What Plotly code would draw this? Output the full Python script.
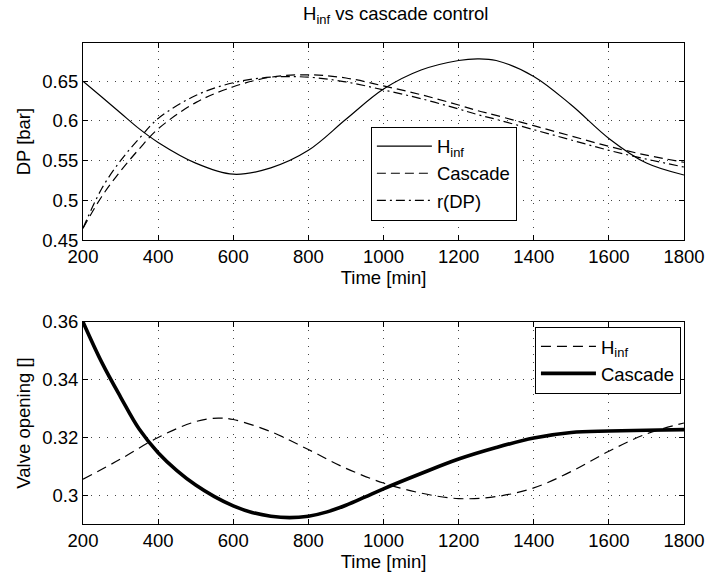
import plotly.graph_objects as go
from plotly.subplots import make_subplots

# ---- top panel data (DP [bar]) ----
t_top = [200, 250, 300, 350, 400, 500, 600, 700, 800, 900, 1000, 1100, 1200,
         1250, 1300, 1400, 1500, 1600, 1700, 1800]
dp_hinf = [0.650, 0.630, 0.610, 0.590, 0.573, 0.547, 0.533, 0.541, 0.563, 0.602,
           0.640, 0.664, 0.676, 0.678, 0.676, 0.656, 0.620, 0.578, 0.547, 0.532]
dp_cascade = [0.465, 0.505, 0.537, 0.565, 0.590, 0.623, 0.643, 0.655, 0.658, 0.654,
              0.644, 0.633, 0.620, 0.613, 0.607, 0.594, 0.581, 0.568, 0.557, 0.548]
dp_ref = [0.465, 0.515, 0.550, 0.578, 0.603, 0.632, 0.648, 0.655, 0.655, 0.649,
          0.639, 0.628, 0.615, 0.608, 0.602, 0.589, 0.576, 0.563, 0.552, 0.542]

# ---- bottom panel data (valve opening) ----
t_bot = [200, 250, 300, 350, 400, 450, 500, 550, 600, 650, 700, 750, 800, 850,
         900, 950, 1000, 1100, 1200, 1300, 1400, 1500, 1600, 1700, 1800]
v_cascade = [0.3600, 0.3460, 0.3340, 0.3228, 0.3147, 0.3085, 0.3035, 0.2995, 0.2963,
             0.2940, 0.2927, 0.2922, 0.2927, 0.2942, 0.2965, 0.2993, 0.3022, 0.3075,
             0.3125, 0.3165, 0.3198, 0.3217, 0.3222, 0.3225, 0.3227]
t_bot_h = [200, 300, 400, 500, 560, 600, 700, 800, 900, 1000, 1100, 1200, 1300,
           1400, 1500, 1600, 1700, 1800]
v_hinf = [0.3055, 0.3125, 0.3200, 0.3255, 0.3267, 0.3262, 0.3220, 0.3158, 0.3093,
          0.3042, 0.3007, 0.2988, 0.2995, 0.3025, 0.3082, 0.3152, 0.3212, 0.3250]

x_ticks = [200, 400, 600, 800, 1000, 1200, 1400, 1600, 1800]
y_top_ticks = [0.45, 0.5, 0.55, 0.6, 0.65]
y_top_text = ["0.45", "0.5", "0.55", "0.6", "0.65"]
y_bot_ticks = [0.3, 0.32, 0.34, 0.36]
y_bot_text = ["0.3", "0.32", "0.34", "0.36"]

FONT = "Liberation Sans, Arial, sans-serif"
FS = 18.5

fig = make_subplots(rows=2, cols=1, vertical_spacing=0.17)

fig.add_trace(go.Scatter(x=t_top, y=dp_hinf, mode="lines", name="H<sub>inf</sub>",
                         line=dict(color="black", width=1.2, shape="spline"),
                         legend="legend"), row=1, col=1)
fig.add_trace(go.Scatter(x=t_top, y=dp_cascade, mode="lines", name="Cascade",
                         line=dict(color="black", width=1.2, dash="9px,5px", shape="spline"),
                         legend="legend"), row=1, col=1)
fig.add_trace(go.Scatter(x=t_top, y=dp_ref, mode="lines", name="r(DP)",
                         line=dict(color="black", width=1.2, dash="9px,4px,2px,4px", shape="spline"),
                         legend="legend"), row=1, col=1)

fig.add_trace(go.Scatter(x=t_bot_h, y=v_hinf, mode="lines", name="H<sub>inf</sub>",
                         line=dict(color="black", width=1.2, dash="10px,6px", shape="spline"),
                         legend="legend2"), row=2, col=1)
fig.add_trace(go.Scatter(x=t_bot, y=v_cascade, mode="lines", name="Cascade",
                         line=dict(color="black", width=3.6, shape="spline"),
                         legend="legend2"), row=2, col=1)

axis_common = dict(showline=True, linecolor="black", linewidth=1, mirror="ticks",
                   ticks="inside", ticklen=5, tickcolor="black",
                   showgrid=True, gridcolor="#444", gridwidth=1, griddash="1px,7px",
                   zeroline=False, tickfont=dict(family=FONT, size=FS, color="black"))

for r in (1, 2):
    fig.update_xaxes(range=[200, 1800], tickvals=x_ticks,
                     title=dict(text="Time [min]", font=dict(family=FONT, size=FS, color="black"),
                                standoff=0),
                     row=r, col=1, **axis_common)

fig.update_yaxes(range=[0.45, 0.698], tickvals=y_top_ticks, ticktext=y_top_text,
                 title=dict(text="DP [bar]", font=dict(family=FONT, size=FS, color="black"),
                            standoff=6),
                 row=1, col=1, **axis_common)
fig.update_yaxes(range=[0.29, 0.36], tickvals=y_bot_ticks, ticktext=y_bot_text,
                 title=dict(text="Valve opening []", font=dict(family=FONT, size=FS, color="black"),
                            standoff=6),
                 row=2, col=1, **axis_common)

fig.update_layout(
    width=717, height=576,
    margin=dict(l=83, r=23, t=43, b=50),
    paper_bgcolor="white", plot_bgcolor="white",
    font=dict(family=FONT, size=FS, color="black"),
    title=dict(text="H<sub>inf</sub> vs cascade control", x=0.552, xanchor="center",
               y=0.988, yanchor="top", font=dict(family=FONT, size=FS, color="black")),
    xaxis=dict(domain=[0, 1]), yaxis=dict(domain=[0.59, 1.0]),
    xaxis2=dict(domain=[0, 1]), yaxis2=dict(domain=[0.0, 0.42]),
    legend=dict(x=0.479, y=0.826, xref="paper", yref="paper", xanchor="left", yanchor="top",
                bgcolor="white", bordercolor="black", borderwidth=1, itemwidth=55,
                font=dict(family=FONT, size=FS, color="black"), tracegroupgap=0),
    legend2=dict(x=0.752, y=0.41, xref="paper", yref="paper", xanchor="left", yanchor="top",
                 bgcolor="white", bordercolor="black", borderwidth=1, itemwidth=55,
                 font=dict(family=FONT, size=FS, color="black"), tracegroupgap=0),
)

fig.write_html("out.html")
